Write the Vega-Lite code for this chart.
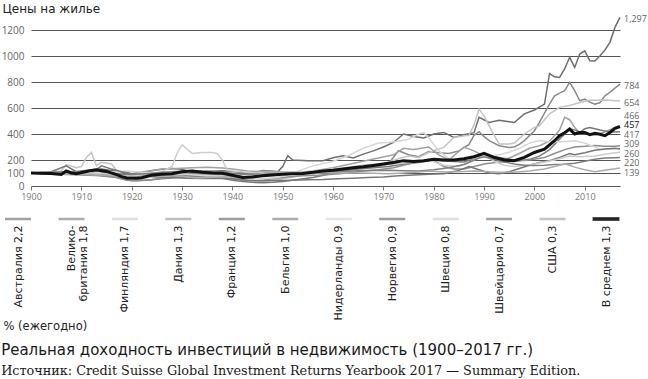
{
  "$schema": "https://vega.github.io/schema/vega-lite/v6.json",
  "background": "white",
  "padding": {"left": 1, "right": 0, "top": 2, "bottom": 0},
  "config": {"view": {"stroke": null}, "font": "Open Sans"},
  "spacing": 13,
  "title": {
    "text": "Реальная доходность инвестиций в недвижимость (1900–2017 гг.)",
    "subtitle": "Источник: Credit Suisse Global Investment Returns Yearbook 2017 — Summary Edition.",
    "orient": "bottom", "anchor": "start", "offset": 11,
    "font": "DejaVu Sans", "fontSize": 15, "fontWeight": "normal", "color": "#1a1a1a",
    "subtitleFont": "DejaVu Serif", "subtitleFontSize": 12.8, "subtitleColor": "#1a1a1a", "subtitlePadding": 7
  },
  "resolve": {"scale": {"color": "independent", "x": "independent"}},
  "datasets": {
    "countries": [
      {"country":"Австралия","year":1900,"value":100},{"country":"Австралия","year":1903,"value":92},{"country":"Австралия","year":1905,"value":96},{"country":"Австралия","year":1908,"value":105},{"country":"Австралия","year":1910,"value":115},{"country":"Австралия","year":1912,"value":125},{"country":"Австралия","year":1914,"value":130},{"country":"Австралия","year":1916,"value":120},{"country":"Австралия","year":1918,"value":105},{"country":"Австралия","year":1920,"value":95},{"country":"Австралия","year":1922,"value":105},{"country":"Австралия","year":1925,"value":125},{"country":"Австралия","year":1928,"value":135},{"country":"Австралия","year":1930,"value":128},{"country":"Австралия","year":1932,"value":105},{"country":"Австралия","year":1935,"value":112},{"country":"Австралия","year":1938,"value":118},{"country":"Австралия","year":1940,"value":112},{"country":"Австралия","year":1943,"value":100},{"country":"Австралия","year":1946,"value":95},{"country":"Австралия","year":1949,"value":110},{"country":"Австралия","year":1950,"value":150},{"country":"Австралия","year":1951,"value":233},{"country":"Австралия","year":1952,"value":200},{"country":"Австралия","year":1955,"value":195},{"country":"Австралия","year":1958,"value":195},{"country":"Австралия","year":1960,"value":217},{"country":"Австралия","year":1962,"value":233},{"country":"Австралия","year":1964,"value":215},{"country":"Австралия","year":1966,"value":245},{"country":"Австралия","year":1968,"value":270},{"country":"Австралия","year":1970,"value":300},{"country":"Австралия","year":1972,"value":335},{"country":"Австралия","year":1974,"value":400},{"country":"Австралия","year":1976,"value":380},{"country":"Австралия","year":1978,"value":370},{"country":"Австралия","year":1980,"value":400},{"country":"Австралия","year":1982,"value":412},{"country":"Австралия","year":1984,"value":374},{"country":"Австралия","year":1986,"value":395},{"country":"Австралия","year":1988,"value":410},{"country":"Австралия","year":1989,"value":528},{"country":"Австралия","year":1991,"value":489},{"country":"Австралия","year":1993,"value":505},{"country":"Австралия","year":1995,"value":495},{"country":"Австралия","year":1996,"value":488},{"country":"Австралия","year":1998,"value":555},{"country":"Австралия","year":2000,"value":585},{"country":"Австралия","year":2002,"value":630},{"country":"Австралия","year":2003,"value":865},{"country":"Австралия","year":2004,"value":840},{"country":"Австралия","year":2005,"value":835},{"country":"Австралия","year":2006,"value":900},{"country":"Австралия","year":2007,"value":990},{"country":"Австралия","year":2008,"value":912},{"country":"Австралия","year":2009,"value":1015},{"country":"Австралия","year":2010,"value":1040},{"country":"Австралия","year":2011,"value":964},{"country":"Австралия","year":2012,"value":962},{"country":"Австралия","year":2013,"value":1000},{"country":"Австралия","year":2014,"value":1045},{"country":"Австралия","year":2015,"value":1105},{"country":"Австралия","year":2016,"value":1220},{"country":"Австралия","year":2017,"value":1297},
      {"country":"Великобритания","year":1900,"value":100},{"country":"Великобритания","year":1903,"value":95},{"country":"Великобритания","year":1906,"value":90},{"country":"Великобритания","year":1910,"value":85},{"country":"Великобритания","year":1913,"value":80},{"country":"Великобритания","year":1916,"value":70},{"country":"Великобритания","year":1919,"value":65},{"country":"Великобритания","year":1921,"value":75},{"country":"Великобритания","year":1925,"value":85},{"country":"Великобритания","year":1930,"value":90},{"country":"Великобритания","year":1934,"value":95},{"country":"Великобритания","year":1938,"value":90},{"country":"Великобритания","year":1941,"value":80},{"country":"Великобритания","year":1944,"value":100},{"country":"Великобритания","year":1946,"value":120},{"country":"Великобритания","year":1948,"value":115},{"country":"Великобритания","year":1950,"value":105},{"country":"Великобритания","year":1953,"value":100},{"country":"Великобритания","year":1956,"value":95},{"country":"Великобритания","year":1960,"value":110},{"country":"Великобритания","year":1963,"value":125},{"country":"Великобритания","year":1966,"value":140},{"country":"Великобритания","year":1969,"value":150},{"country":"Великобритания","year":1971,"value":170},{"country":"Великобритания","year":1973,"value":271},{"country":"Великобритания","year":1975,"value":240},{"country":"Великобритания","year":1977,"value":225},{"country":"Великобритания","year":1979,"value":265},{"country":"Великобритания","year":1981,"value":255},{"country":"Великобритания","year":1983,"value":250},{"country":"Великобритания","year":1985,"value":270},{"country":"Великобритания","year":1987,"value":320},{"country":"Великобритания","year":1988,"value":390},{"country":"Великобритания","year":1989,"value":418},{"country":"Великобритания","year":1990,"value":380},{"country":"Великобритания","year":1991,"value":349},{"country":"Великобритания","year":1993,"value":310},{"country":"Великобритания","year":1995,"value":297},{"country":"Великобритания","year":1996,"value":300},{"country":"Великобритания","year":1997,"value":320},{"country":"Великобритания","year":1998,"value":349},{"country":"Великобритания","year":2000,"value":425},{"country":"Великобритания","year":2001,"value":489},{"country":"Великобритания","year":2002,"value":560},{"country":"Великобритания","year":2003,"value":630},{"country":"Великобритания","year":2004,"value":694},{"country":"Великобритания","year":2005,"value":715},{"country":"Великобритания","year":2006,"value":733},{"country":"Великобритания","year":2007,"value":797},{"country":"Великобритания","year":2008,"value":733},{"country":"Великобритания","year":2009,"value":656},{"country":"Великобритания","year":2010,"value":668},{"country":"Великобритания","year":2011,"value":645},{"country":"Великобритания","year":2012,"value":630},{"country":"Великобритания","year":2013,"value":640},{"country":"Великобритания","year":2014,"value":694},{"country":"Великобритания","year":2015,"value":720},{"country":"Великобритания","year":2016,"value":753},{"country":"Великобритания","year":2017,"value":784},
      {"country":"Финляндия","year":1900,"value":100},{"country":"Финляндия","year":1903,"value":105},{"country":"Финляндия","year":1906,"value":115},{"country":"Финляндия","year":1907,"value":165},{"country":"Финляндия","year":1909,"value":140},{"country":"Финляндия","year":1910,"value":150},{"country":"Финляндия","year":1911,"value":220},{"country":"Финляндия","year":1912,"value":258},{"country":"Финляндия","year":1913,"value":156},{"country":"Финляндия","year":1914,"value":182},{"country":"Финляндия","year":1916,"value":170},{"country":"Финляндия","year":1917,"value":120},{"country":"Финляндия","year":1918,"value":94},{"country":"Финляндия","year":1919,"value":55},{"country":"Финляндия","year":1920,"value":45},{"country":"Финляндия","year":1922,"value":60},{"country":"Финляндия","year":1925,"value":75},{"country":"Финляндия","year":1928,"value":85},{"country":"Финляндия","year":1931,"value":80},{"country":"Финляндия","year":1935,"value":75},{"country":"Финляндия","year":1938,"value":80},{"country":"Финляндия","year":1940,"value":65},{"country":"Финляндия","year":1943,"value":45},{"country":"Финляндия","year":1946,"value":35},{"country":"Финляндия","year":1949,"value":50},{"country":"Финляндия","year":1952,"value":70},{"country":"Финляндия","year":1955,"value":90},{"country":"Финляндия","year":1958,"value":105},{"country":"Финляндия","year":1961,"value":125},{"country":"Финляндия","year":1964,"value":150},{"country":"Финляндия","year":1967,"value":165},{"country":"Финляндия","year":1970,"value":170},{"country":"Финляндия","year":1973,"value":210},{"country":"Финляндия","year":1975,"value":230},{"country":"Финляндия","year":1977,"value":220},{"country":"Финляндия","year":1979,"value":258},{"country":"Финляндия","year":1982,"value":297},{"country":"Финляндия","year":1984,"value":374},{"country":"Финляндия","year":1987,"value":390},{"country":"Финляндия","year":1988,"value":470},{"country":"Финляндия","year":1989,"value":592},{"country":"Финляндия","year":1990,"value":540},{"country":"Финляндия","year":1991,"value":463},{"country":"Финляндия","year":1992,"value":390},{"country":"Финляндия","year":1993,"value":324},{"country":"Финляндия","year":1995,"value":324},{"country":"Финляндия","year":1996,"value":330},{"country":"Финляндия","year":1998,"value":400},{"country":"Финляндия","year":2000,"value":451},{"country":"Финляндия","year":2001,"value":463},{"country":"Финляндия","year":2003,"value":555},{"country":"Финляндия","year":2005,"value":605},{"country":"Финляндия","year":2007,"value":620},{"country":"Финляндия","year":2009,"value":643},{"country":"Финляндия","year":2011,"value":660},{"country":"Финляндия","year":2014,"value":662},{"country":"Финляндия","year":2017,"value":654},
      {"country":"Дания","year":1900,"value":100},{"country":"Дания","year":1904,"value":105},{"country":"Дания","year":1908,"value":112},{"country":"Дания","year":1912,"value":110},{"country":"Дания","year":1915,"value":100},{"country":"Дания","year":1918,"value":90},{"country":"Дания","year":1920,"value":85},{"country":"Дания","year":1923,"value":110},{"country":"Дания","year":1926,"value":130},{"country":"Дания","year":1929,"value":135},{"country":"Дания","year":1932,"value":140},{"country":"Дания","year":1935,"value":145},{"country":"Дания","year":1938,"value":138},{"country":"Дания","year":1940,"value":130},{"country":"Дания","year":1943,"value":115},{"country":"Дания","year":1946,"value":110},{"country":"Дания","year":1950,"value":100},{"country":"Дания","year":1953,"value":105},{"country":"Дания","year":1956,"value":115},{"country":"Дания","year":1960,"value":140},{"country":"Дания","year":1963,"value":165},{"country":"Дания","year":1966,"value":190},{"country":"Дания","year":1969,"value":215},{"country":"Дания","year":1972,"value":240},{"country":"Дания","year":1974,"value":290},{"country":"Дания","year":1976,"value":280},{"country":"Дания","year":1979,"value":300},{"country":"Дания","year":1981,"value":240},{"country":"Дания","year":1983,"value":200},{"country":"Дания","year":1986,"value":300},{"country":"Дания","year":1988,"value":270},{"country":"Дания","year":1990,"value":230},{"country":"Дания","year":1993,"value":200},{"country":"Дания","year":1995,"value":215},{"country":"Дания","year":1997,"value":250},{"country":"Дания","year":1999,"value":290},{"country":"Дания","year":2001,"value":310},{"country":"Дания","year":2003,"value":345},{"country":"Дания","year":2005,"value":430},{"country":"Дания","year":2006,"value":528},{"country":"Дания","year":2007,"value":510},{"country":"Дания","year":2008,"value":450},{"country":"Дания","year":2009,"value":410},{"country":"Дания","year":2010,"value":415},{"country":"Дания","year":2011,"value":400},{"country":"Дания","year":2012,"value":390},{"country":"Дания","year":2014,"value":415},{"country":"Дания","year":2016,"value":450},{"country":"Дания","year":2017,"value":466},
      {"country":"Франция","year":1900,"value":100},{"country":"Франция","year":1904,"value":98},{"country":"Франция","year":1908,"value":102},{"country":"Франция","year":1912,"value":105},{"country":"Франция","year":1914,"value":100},{"country":"Франция","year":1916,"value":75},{"country":"Франция","year":1918,"value":55},{"country":"Франция","year":1920,"value":40},{"country":"Франция","year":1923,"value":45},{"country":"Франция","year":1926,"value":55},{"country":"Франция","year":1929,"value":65},{"country":"Франция","year":1932,"value":75},{"country":"Франция","year":1935,"value":70},{"country":"Франция","year":1938,"value":60},{"country":"Франция","year":1940,"value":45},{"country":"Франция","year":1942,"value":35},{"country":"Франция","year":1944,"value":28},{"country":"Франция","year":1946,"value":25},{"country":"Франция","year":1948,"value":28},{"country":"Франция","year":1950,"value":35},{"country":"Франция","year":1953,"value":50},{"country":"Франция","year":1956,"value":65},{"country":"Франция","year":1959,"value":90},{"country":"Франция","year":1962,"value":115},{"country":"Франция","year":1965,"value":130},{"country":"Франция","year":1968,"value":140},{"country":"Франция","year":1971,"value":150},{"country":"Франция","year":1974,"value":170},{"country":"Франция","year":1977,"value":180},{"country":"Франция","year":1980,"value":200},{"country":"Франция","year":1983,"value":190},{"country":"Франция","year":1986,"value":185},{"country":"Франция","year":1989,"value":225},{"country":"Франция","year":1991,"value":235},{"country":"Франция","year":1993,"value":220},{"country":"Франция","year":1995,"value":205},{"country":"Франция","year":1997,"value":195},{"country":"Франция","year":1999,"value":205},{"country":"Франция","year":2001,"value":230},{"country":"Франция","year":2003,"value":280},{"country":"Франция","year":2005,"value":360},{"country":"Франция","year":2007,"value":440},{"country":"Франция","year":2008,"value":432},{"country":"Франция","year":2009,"value":410},{"country":"Франция","year":2010,"value":440},{"country":"Франция","year":2011,"value":450},{"country":"Франция","year":2012,"value":440},{"country":"Франция","year":2013,"value":430},{"country":"Франция","year":2015,"value":415},{"country":"Франция","year":2017,"value":417},
      {"country":"Бельгия","year":1900,"value":100},{"country":"Бельгия","year":1905,"value":100},{"country":"Бельгия","year":1910,"value":95},{"country":"Бельгия","year":1914,"value":92},{"country":"Бельгия","year":1917,"value":65},{"country":"Бельгия","year":1919,"value":45},{"country":"Бельгия","year":1921,"value":40},{"country":"Бельгия","year":1924,"value":50},{"country":"Бельгия","year":1927,"value":65},{"country":"Бельгия","year":1930,"value":80},{"country":"Бельгия","year":1933,"value":78},{"country":"Бельгия","year":1936,"value":72},{"country":"Бельгия","year":1939,"value":60},{"country":"Бельгия","year":1942,"value":45},{"country":"Бельгия","year":1945,"value":40},{"country":"Бельгия","year":1948,"value":55},{"country":"Бельгия","year":1951,"value":70},{"country":"Бельгия","year":1954,"value":78},{"country":"Бельгия","year":1957,"value":82},{"country":"Бельгия","year":1960,"value":90},{"country":"Бельгия","year":1963,"value":100},{"country":"Бельгия","year":1966,"value":115},{"country":"Бельгия","year":1969,"value":125},{"country":"Бельгия","year":1972,"value":140},{"country":"Бельгия","year":1975,"value":170},{"country":"Бельгия","year":1978,"value":195},{"country":"Бельгия","year":1980,"value":200},{"country":"Бельгия","year":1982,"value":150},{"country":"Бельгия","year":1984,"value":130},{"country":"Бельгия","year":1986,"value":130},{"country":"Бельгия","year":1988,"value":150},{"country":"Бельгия","year":1990,"value":170},{"country":"Бельгия","year":1993,"value":185},{"country":"Бельгия","year":1996,"value":190},{"country":"Бельгия","year":1999,"value":200},{"country":"Бельгия","year":2002,"value":220},{"country":"Бельгия","year":2004,"value":250},{"country":"Бельгия","year":2006,"value":280},{"country":"Бельгия","year":2008,"value":300},{"country":"Бельгия","year":2010,"value":305},{"country":"Бельгия","year":2012,"value":312},{"country":"Бельгия","year":2014,"value":305},{"country":"Бельгия","year":2016,"value":305},{"country":"Бельгия","year":2017,"value":309},
      {"country":"Нидерланды","year":1900,"value":100},{"country":"Нидерланды","year":1904,"value":98},{"country":"Нидерланды","year":1908,"value":95},{"country":"Нидерланды","year":1912,"value":100},{"country":"Нидерланды","year":1916,"value":105},{"country":"Нидерланды","year":1919,"value":115},{"country":"Нидерланды","year":1921,"value":110},{"country":"Нидерланды","year":1924,"value":100},{"country":"Нидерланды","year":1928,"value":95},{"country":"Нидерланды","year":1931,"value":90},{"country":"Нидерланды","year":1934,"value":80},{"country":"Нидерланды","year":1937,"value":75},{"country":"Нидерланды","year":1940,"value":70},{"country":"Нидерланды","year":1943,"value":60},{"country":"Нидерланды","year":1946,"value":55},{"country":"Нидерланды","year":1949,"value":65},{"country":"Нидерланды","year":1952,"value":100},{"country":"Нидерланды","year":1956,"value":155},{"country":"Нидерланды","year":1960,"value":190},{"country":"Нидерланды","year":1963,"value":233},{"country":"Нидерланды","year":1966,"value":290},{"country":"Нидерланды","year":1969,"value":330},{"country":"Нидерланды","year":1971,"value":335},{"country":"Нидерланды","year":1973,"value":345},{"country":"Нидерланды","year":1975,"value":360},{"country":"Нидерланды","year":1977,"value":400},{"country":"Нидерланды","year":1978,"value":410},{"country":"Нидерланды","year":1979,"value":370},{"country":"Нидерланды","year":1981,"value":270},{"country":"Нидерланды","year":1983,"value":210},{"country":"Нидерланды","year":1985,"value":200},{"country":"Нидерланды","year":1987,"value":210},{"country":"Нидерланды","year":1989,"value":220},{"country":"Нидерланды","year":1991,"value":230},{"country":"Нидерланды","year":1993,"value":240},{"country":"Нидерланды","year":1995,"value":260},{"country":"Нидерланды","year":1997,"value":290},{"country":"Нидерланды","year":1999,"value":330},{"country":"Нидерланды","year":2001,"value":350},{"country":"Нидерланды","year":2003,"value":340},{"country":"Нидерланды","year":2005,"value":340},{"country":"Нидерланды","year":2007,"value":345},{"country":"Нидерланды","year":2008,"value":348},{"country":"Нидерланды","year":2010,"value":330},{"country":"Нидерланды","year":2012,"value":300},{"country":"Нидерланды","year":2013,"value":280},{"country":"Нидерланды","year":2015,"value":283},{"country":"Нидерланды","year":2017,"value":290},
      {"country":"Норвегия","year":1900,"value":100},{"country":"Норвегия","year":1903,"value":95},{"country":"Норвегия","year":1907,"value":155},{"country":"Норвегия","year":1909,"value":110},{"country":"Норвегия","year":1912,"value":100},{"country":"Норвегия","year":1914,"value":155},{"country":"Норвегия","year":1916,"value":130},{"country":"Норвегия","year":1918,"value":110},{"country":"Норвегия","year":1920,"value":95},{"country":"Норвегия","year":1922,"value":80},{"country":"Норвегия","year":1925,"value":70},{"country":"Норвегия","year":1928,"value":65},{"country":"Норвегия","year":1931,"value":60},{"country":"Норвегия","year":1934,"value":58},{"country":"Норвегия","year":1937,"value":60},{"country":"Норвегия","year":1940,"value":55},{"country":"Норвегия","year":1943,"value":45},{"country":"Норвегия","year":1946,"value":40},{"country":"Норвегия","year":1949,"value":42},{"country":"Норвегия","year":1952,"value":45},{"country":"Норвегия","year":1955,"value":48},{"country":"Норвегия","year":1958,"value":50},{"country":"Норвегия","year":1961,"value":55},{"country":"Норвегия","year":1964,"value":60},{"country":"Норвегия","year":1967,"value":65},{"country":"Норвегия","year":1970,"value":70},{"country":"Норвегия","year":1973,"value":78},{"country":"Норвегия","year":1976,"value":85},{"country":"Норвегия","year":1979,"value":90},{"country":"Норвегия","year":1982,"value":95},{"country":"Норвегия","year":1985,"value":120},{"country":"Норвегия","year":1987,"value":150},{"country":"Норвегия","year":1989,"value":125},{"country":"Норвегия","year":1991,"value":100},{"country":"Норвегия","year":1993,"value":95},{"country":"Норвегия","year":1995,"value":110},{"country":"Норвегия","year":1997,"value":135},{"country":"Норвегия","year":1999,"value":160},{"country":"Норвегия","year":2001,"value":180},{"country":"Норвегия","year":2003,"value":195},{"country":"Норвегия","year":2005,"value":220},{"country":"Норвегия","year":2007,"value":250},{"country":"Норвегия","year":2008,"value":240},{"country":"Норвегия","year":2010,"value":255},{"country":"Норвегия","year":2012,"value":275},{"country":"Норвегия","year":2014,"value":285},{"country":"Норвегия","year":2016,"value":290},{"country":"Норвегия","year":2017,"value":285},
      {"country":"Швеция","year":1900,"value":100},{"country":"Швеция","year":1905,"value":105},{"country":"Швеция","year":1908,"value":110},{"country":"Швеция","year":1912,"value":100},{"country":"Швеция","year":1915,"value":95},{"country":"Швеция","year":1918,"value":80},{"country":"Швеция","year":1920,"value":75},{"country":"Швеция","year":1923,"value":90},{"country":"Швеция","year":1926,"value":110},{"country":"Швеция","year":1928,"value":150},{"country":"Швеция","year":1929,"value":250},{"country":"Швеция","year":1930,"value":318},{"country":"Швеция","year":1932,"value":250},{"country":"Швеция","year":1934,"value":258},{"country":"Швеция","year":1936,"value":258},{"country":"Швеция","year":1937,"value":250},{"country":"Швеция","year":1938,"value":200},{"country":"Швеция","year":1939,"value":120},{"country":"Швеция","year":1940,"value":115},{"country":"Швеция","year":1945,"value":100},{"country":"Швеция","year":1950,"value":105},{"country":"Швеция","year":1955,"value":110},{"country":"Швеция","year":1960,"value":130},{"country":"Швеция","year":1965,"value":150},{"country":"Швеция","year":1970,"value":160},{"country":"Швеция","year":1975,"value":180},{"country":"Швеция","year":1979,"value":200},{"country":"Швеция","year":1982,"value":160},{"country":"Швеция","year":1985,"value":150},{"country":"Швеция","year":1988,"value":200},{"country":"Швеция","year":1990,"value":240},{"country":"Швеция","year":1992,"value":190},{"country":"Швеция","year":1994,"value":160},{"country":"Швеция","year":1996,"value":150},{"country":"Швеция","year":2000,"value":170},{"country":"Швеция","year":2004,"value":200},{"country":"Швеция","year":2007,"value":230},{"country":"Швеция","year":2009,"value":225},{"country":"Швеция","year":2012,"value":230},{"country":"Швеция","year":2015,"value":250},{"country":"Швеция","year":2017,"value":260},
      {"country":"Швейцария","year":1900,"value":100},{"country":"Швейцария","year":1903,"value":105},{"country":"Швейцария","year":1906,"value":108},{"country":"Швейцария","year":1910,"value":112},{"country":"Швейцария","year":1913,"value":118},{"country":"Швейцария","year":1916,"value":100},{"country":"Швейцария","year":1918,"value":90},{"country":"Швейцария","year":1920,"value":88},{"country":"Швейцария","year":1923,"value":95},{"country":"Швейцария","year":1926,"value":105},{"country":"Швейцария","year":1929,"value":112},{"country":"Швейцария","year":1932,"value":118},{"country":"Швейцария","year":1935,"value":115},{"country":"Швейцария","year":1938,"value":105},{"country":"Швейцария","year":1941,"value":95},{"country":"Швейцария","year":1944,"value":90},{"country":"Швейцария","year":1947,"value":92},{"country":"Швейцария","year":1950,"value":95},{"country":"Швейцария","year":1953,"value":98},{"country":"Швейцария","year":1956,"value":100},{"country":"Швейцария","year":1959,"value":105},{"country":"Швейцария","year":1962,"value":112},{"country":"Швейцария","year":1965,"value":118},{"country":"Швейцария","year":1968,"value":120},{"country":"Швейцария","year":1971,"value":122},{"country":"Швейцария","year":1974,"value":118},{"country":"Швейцария","year":1977,"value":115},{"country":"Швейцария","year":1980,"value":125},{"country":"Швейцария","year":1983,"value":140},{"country":"Швейцария","year":1986,"value":165},{"country":"Швейцария","year":1989,"value":215},{"country":"Швейцария","year":1990,"value":225},{"country":"Швейцария","year":1992,"value":205},{"country":"Швейцария","year":1994,"value":185},{"country":"Швейцария","year":1996,"value":170},{"country":"Швейцария","year":1998,"value":160},{"country":"Швейцария","year":2000,"value":158},{"country":"Швейцария","year":2002,"value":160},{"country":"Швейцария","year":2004,"value":165},{"country":"Швейцария","year":2006,"value":168},{"country":"Швейцария","year":2008,"value":175},{"country":"Швейцария","year":2010,"value":190},{"country":"Швейцария","year":2012,"value":205},{"country":"Швейцария","year":2014,"value":215},{"country":"Швейцария","year":2016,"value":218},{"country":"Швейцария","year":2017,"value":220},
      {"country":"США","year":1900,"value":100},{"country":"США","year":1903,"value":95},{"country":"США","year":1906,"value":92},{"country":"США","year":1910,"value":90},{"country":"США","year":1913,"value":85},{"country":"США","year":1916,"value":80},{"country":"США","year":1919,"value":72},{"country":"США","year":1921,"value":70},{"country":"США","year":1924,"value":85},{"country":"США","year":1927,"value":82},{"country":"США","year":1930,"value":75},{"country":"США","year":1933,"value":62},{"country":"США","year":1936,"value":68},{"country":"США","year":1939,"value":72},{"country":"США","year":1942,"value":70},{"country":"США","year":1945,"value":85},{"country":"США","year":1947,"value":108},{"country":"США","year":1950,"value":105},{"country":"США","year":1953,"value":103},{"country":"США","year":1956,"value":105},{"country":"США","year":1959,"value":102},{"country":"США","year":1962,"value":100},{"country":"США","year":1965,"value":100},{"country":"США","year":1968,"value":98},{"country":"США","year":1971,"value":95},{"country":"США","year":1974,"value":100},{"country":"США","year":1977,"value":108},{"country":"США","year":1979,"value":115},{"country":"США","year":1982,"value":108},{"country":"США","year":1985,"value":110},{"country":"США","year":1988,"value":115},{"country":"США","year":1990,"value":112},{"country":"США","year":1993,"value":105},{"country":"США","year":1996,"value":105},{"country":"США","year":1999,"value":115},{"country":"США","year":2002,"value":130},{"country":"США","year":2004,"value":150},{"country":"США","year":2006,"value":170},{"country":"США","year":2008,"value":145},{"country":"США","year":2010,"value":125},{"country":"США","year":2012,"value":110},{"country":"США","year":2014,"value":122},{"country":"США","year":2016,"value":132},{"country":"США","year":2017,"value":139}
    ],
    "average": [
      {"year":1900,"value":100},{"year":1902,"value":98},{"year":1904,"value":97},{"year":1906,"value":88},{"year":1907,"value":115},{"year":1908,"value":100},{"year":1909,"value":95},{"year":1911,"value":112},{"year":1912,"value":120},{"year":1913,"value":124},{"year":1914,"value":118},{"year":1915,"value":112},{"year":1917,"value":88},{"year":1918,"value":72},{"year":1919,"value":62},{"year":1921,"value":60},{"year":1922,"value":64},{"year":1924,"value":85},{"year":1926,"value":90},{"year":1928,"value":95},{"year":1930,"value":110},{"year":1932,"value":115},{"year":1934,"value":105},{"year":1936,"value":100},{"year":1938,"value":98},{"year":1940,"value":82},{"year":1942,"value":66},{"year":1944,"value":70},{"year":1946,"value":78},{"year":1948,"value":85},{"year":1950,"value":90},{"year":1952,"value":95},{"year":1954,"value":97},{"year":1956,"value":105},{"year":1958,"value":115},{"year":1960,"value":122},{"year":1962,"value":131},{"year":1964,"value":140},{"year":1966,"value":148},{"year":1968,"value":158},{"year":1970,"value":169},{"year":1972,"value":180},{"year":1974,"value":195},{"year":1976,"value":188},{"year":1978,"value":195},{"year":1980,"value":205},{"year":1982,"value":200},{"year":1984,"value":200},{"year":1986,"value":210},{"year":1988,"value":225},{"year":1990,"value":251},{"year":1991,"value":235},{"year":1992,"value":220},{"year":1994,"value":200},{"year":1996,"value":195},{"year":1998,"value":220},{"year":2000,"value":258},{"year":2002,"value":284},{"year":2004,"value":348},{"year":2005,"value":387},{"year":2006,"value":410},{"year":2007,"value":438},{"year":2008,"value":400},{"year":2009,"value":412},{"year":2010,"value":412},{"year":2011,"value":395},{"year":2012,"value":405},{"year":2013,"value":398},{"year":2014,"value":387},{"year":2015,"value":412},{"year":2016,"value":443},{"year":2017,"value":457}
    ],
    "endlabels": [
      {"label":"1,297","year":2017,"pos":1285,"kind":"country"},
      {"label":"784","year":2017,"pos":771,"kind":"country"},
      {"label":"654","year":2017,"pos":641,"kind":"country"},
      {"label":"466","year":2017,"pos":541,"kind":"country"},
      {"label":"457","year":2017,"pos":468,"kind":"average"},
      {"label":"417","year":2017,"pos":395,"kind":"country"},
      {"label":"309","year":2017,"pos":322,"kind":"country"},
      {"label":"260","year":2017,"pos":248,"kind":"country"},
      {"label":"220","year":2017,"pos":175,"kind":"country"},
      {"label":"139","year":2017,"pos":102,"kind":"country"}
    ],
    "legend": [
      {"name":"Австралия 2,2"},{"name":"Великобритания 1,8"},{"name":"Финляндия 1,7"},{"name":"Дания 1,3"},{"name":"Франция 1,2"},{"name":"Бельгия 1,0"},{"name":"Нидерланды 0,9"},{"name":"Норвегия 0,9"},{"name":"Швеция 0,8"},{"name":"Швейцария 0,7"},{"name":"США 0,3"},{"name":"В среднем 1,3"}
    ]
  },
  "vconcat": [
    {
      "width": 589,
      "height": 169,
      "layer": [
        {
          "data": {"name": "countries"},
          "mark": {"type": "line", "strokeWidth": 1.5},
          "encoding": {
            "x": {"field": "year", "type": "quantitative", "scale": {"domain": [1900, 2017], "nice": false, "zero": false},
              "axis": {"values": [1900,1910,1920,1930,1940,1950,1960,1970,1980,1990,2000,2010], "tickCount": 30, "format": "d", "labelFlush": false, "labelOverlap": false, "grid": false, "domain": false, "tickSize": 4, "tickColor": "#777", "labelFontSize": 9, "labelColor": "#777", "labelPadding": 2, "title": null}},
            "y": {"field": "value", "type": "quantitative", "scale": {"domain": [0, 1300], "nice": false},
              "axis": {"values": [0,100,200,400,600,800,1000,1200], "tickCount": 30, "format": "d", "grid": true, "gridColor": "#555", "gridWidth": 1.2, "ticks": false, "domain": false, "labelOverlap": false, "labelFontSize": 10, "labelColor": "#666", "labelPadding": 7, "title": "Цены на жилье", "titleFont": "DejaVu Sans", "titleAngle": 0, "titleAlign": "left", "titleBaseline": "middle", "titleX": -29, "titleY": -9, "titleFontSize": 12, "titleFontWeight": "normal", "titleColor": "#222"}},
            "color": {"field": "country", "type": "nominal", "legend": null,
              "scale": {"domain": ["Нидерланды","Швеция","Финляндия","США","Дания","Бельгия","Великобритания","Швейцария","Франция","Норвегия","Австралия"],
                        "range": ["#d6d6d6","#cdcdcd","#c4c4c4","#ababab","#a2a2a2","#8f8f8f","#8a8a8a","#7f7f7f","#7a7a7a","#777777","#6e6e6e"]}}
          }
        },
        {
          "data": {"name": "average"},
          "mark": {"type": "line", "strokeWidth": 3, "color": "#111"},
          "encoding": {
            "x": {"field": "year", "type": "quantitative"},
            "y": {"field": "value", "type": "quantitative"}
          }
        },
        {
          "data": {"name": "endlabels"},
          "mark": {"type": "text", "align": "left", "baseline": "middle", "dx": 4, "fontSize": 9},
          "encoding": {
            "x": {"field": "year", "type": "quantitative"},
            "y": {"field": "pos", "type": "quantitative"},
            "text": {"field": "label"},
            "color": {"condition": {"test": "datum.kind == 'average'", "value": "#111"}, "value": "#666"}
          }
        }
      ]
    },
    {
      "width": 575,
      "height": 10,
      "data": {"name": "legend"},
      "layer": [
        {
          "mark": {"type": "tick", "orient": "horizontal", "size": 26, "thickness": 2.5},
          "encoding": {
            "x": {"field": "name", "type": "nominal", "sort": null, "scale": {"type": "point", "padding": 0, "range": [-13, 575]},
              "axis": {"labelAngle": -90, "labelAlign": "right", "labelBaseline": "middle", "ticks": false, "domain": false, "labelPadding": 1, "labelFont": "DejaVu Sans", "labelFontSize": 11, "labelColor": "#222", "labelLimit": 0, "labelLineHeight": 12,
                "labelExpr": "datum.label == 'Великобритания 1,8' ? ['Велико-', 'британия 1,8'] : datum.label",
                "title": "% (ежегодно)", "titleFont": "DejaVu Sans", "titleAnchor": "start", "titleAlign": "left", "titleX": -28, "titleFontSize": 11.5, "titleFontWeight": "normal", "titleColor": "#222", "titlePadding": 0}},
            "color": {"field": "name", "type": "nominal", "legend": null,
              "scale": {"domain": ["Австралия 2,2","Великобритания 1,8","Финляндия 1,7","Дания 1,3","Франция 1,2","Бельгия 1,0","Нидерланды 0,9","Норвегия 0,9","Швеция 0,8","Швейцария 0,7","США 0,3","В среднем 1,3"],
                        "range": ["#7a7a7a","#8a8a8a","#d0d0d0","#a2a2a2","#747474","#8a8a8a","#d8d8d8","#747474","#d0d0d0","#7a7a7a","#ababab","#111111"]}}
          }
        },
        {
          "transform": [{"filter": "datum.name == 'В среднем 1,3'"}],
          "mark": {"type": "tick", "orient": "horizontal", "size": 27, "thickness": 4, "color": "#111"},
          "encoding": {
            "x": {"field": "name", "type": "nominal", "sort": null}
          }
        }
      ]
    }
  ]
}
